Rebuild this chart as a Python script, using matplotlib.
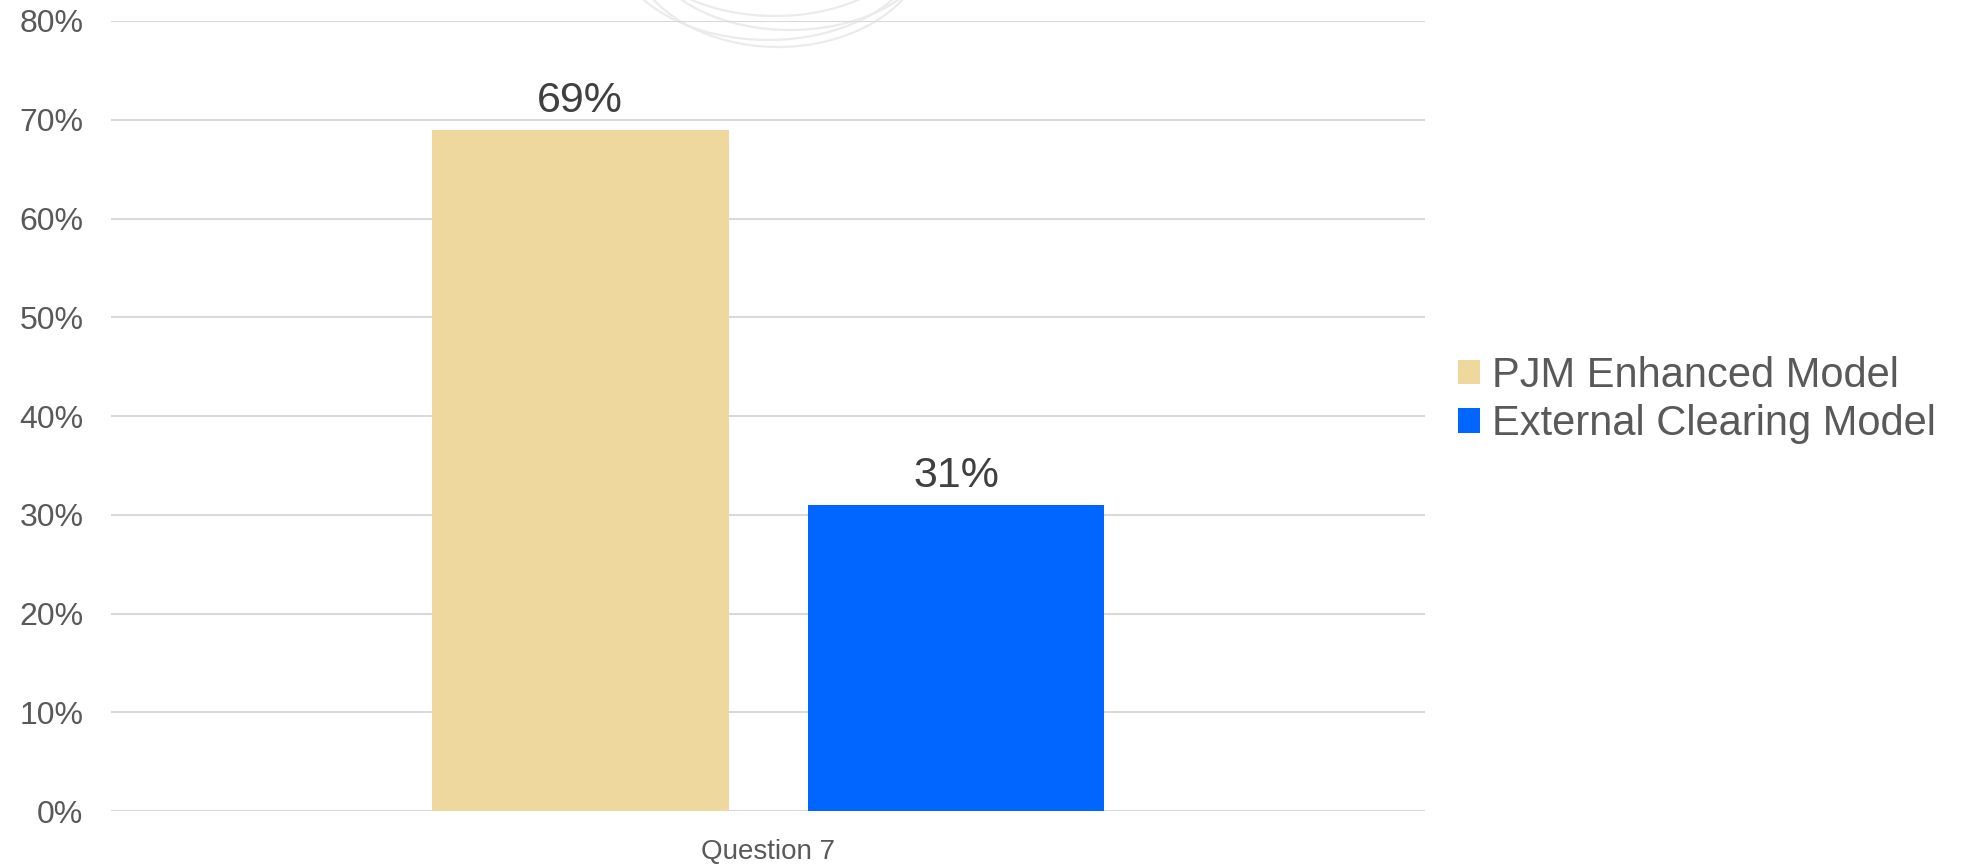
import matplotlib.pyplot as plt
from matplotlib.patches import Arc

plt.rcParams['font.family'] = ['Liberation Sans', 'DejaVu Sans']

category = 'Question 7'
series = ['PJM Enhanced Model', 'External Clearing Model']
values = [69, 31]
colors = ['#EED89D', '#0066FF']
yticks = [0, 10, 20, 30, 40, 50, 60, 70, 80]

fig = plt.figure(figsize=(19.73, 8.64), dpi=100)

# faint logo arcs at top (background watermark), sizes in pixels
for xc, bottom, half_w in [(778, 47, 150), (768, 40, 155), (790, 30, 145), (775, 16, 135)]:
    yc = -60
    arc = Arc((xc / 1973, 1 - yc / 864), 2 * half_w / 1973, 2 * (bottom - yc) / 864,
              theta1=200, theta2=340, transform=fig.transFigure,
              color='#EBEBEB', lw=1.6, zorder=0)
    fig.add_artist(arc)

ax = fig.add_axes([0.0563, 0.0613, 0.666, 0.9144])
ax.patch.set_visible(False)

offsets = [-0.143, 0.143]
for name, val, col, off in zip(series, values, colors, offsets):
    ax.bar(off, val, width=0.226, color=col, label=name, zorder=2)
    ax.text(off, val + 0.9, f'{val}%', ha='center', va='bottom', fontsize=31, color='#404040')

ax.set_xlim(-0.5, 0.5)
ax.set_ylim(0, 80)
ax.set_yticks(yticks)
ax.set_yticklabels([f'{t}%' for t in yticks], fontsize=23, color='#595959')
ax.set_xticks([0])
ax.set_xticklabels([category], fontsize=20, color='#595959')
ax.tick_params(length=0, axis='both')
ax.tick_params(axis='y', pad=20)
ax.tick_params(axis='x', pad=20)
ax.yaxis.grid(True, color='#D9D9D9', linewidth=1.5, zorder=0)
ax.set_axisbelow(True)
for s in ax.spines.values():
    s.set_visible(False)

fig.legend(loc='center left', bbox_to_anchor=(1458 / 1973, 0.537), frameon=False,
           fontsize=30, handlelength=0.53, handleheight=0.53, handletextpad=0.29,
           labelspacing=0.2, borderpad=0, borderaxespad=0, labelcolor='#595959')

fig.savefig('out.png', dpi=100)
